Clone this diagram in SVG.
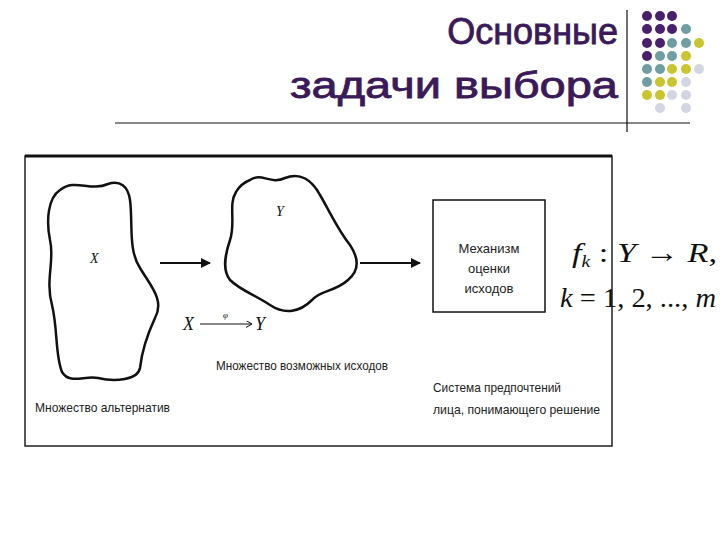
<svg xmlns="http://www.w3.org/2000/svg" width="720" height="540" viewBox="0 0 720 540">
<defs>
<style>
.t{font-family:"Liberation Sans",Arial,sans-serif;font-size:36px;fill:#3b1a5a;stroke:#3b1a5a;stroke-width:0.8;text-anchor:end}
.s{font-family:"Liberation Sans",Arial,sans-serif;font-size:13px;fill:#222}
.m{font-family:"Liberation Serif",serif;font-style:italic;fill:#111}
.sh{fill:none;stroke:#111;stroke-width:2.5}
.P{fill:#4a1f6e}.T{fill:#6e9ea2}.Y{fill:#c8c52e}.L{fill:#d3d6e2}
</style>
<marker id="ah" markerWidth="10" markerHeight="10" refX="9" refY="5" orient="auto" markerUnits="userSpaceOnUse"><path d="M0,0L10,5L0,10z" fill="#111"/></marker>
<marker id="sa" markerWidth="7" markerHeight="7" refX="6" refY="3.5" orient="auto" markerUnits="userSpaceOnUse"><path d="M0,0L6,3.5L0,7" fill="none" stroke="#111"/></marker>
</defs>
<rect width="720" height="540" fill="#fff"/>
<g id="title">
<text class="t" x="618" y="44">Основные</text>
<text class="t" x="618" y="98" textLength="328" lengthAdjust="spacingAndGlyphs">задачи выбора</text>
<line x1="627" y1="10" x2="627" y2="132" stroke="#111" stroke-width="1.2"/>
<line x1="115" y1="123" x2="690" y2="123" stroke="#111" stroke-width="1.2"/>
</g>
<g id="dots">
<circle class="P" cx="647" cy="16" r="5"/><circle class="P" cx="660" cy="16" r="5"/><circle class="P" cx="672" cy="16" r="5"/>
<circle class="P" cx="647" cy="29" r="5"/><circle class="P" cx="660" cy="29" r="5"/><circle class="P" cx="672" cy="29" r="5"/><circle class="T" cx="686" cy="29" r="5"/>
<circle class="P" cx="647" cy="43" r="5"/><circle class="P" cx="660" cy="43" r="5"/><circle class="T" cx="672" cy="43" r="5"/><circle class="T" cx="686" cy="43" r="5"/><circle class="Y" cx="699" cy="43" r="5"/>
<circle class="P" cx="647" cy="56" r="5"/><circle class="T" cx="660" cy="56" r="5"/><circle class="T" cx="672" cy="56" r="5"/><circle class="Y" cx="686" cy="56" r="5"/>
<circle class="T" cx="647" cy="69" r="5"/><circle class="T" cx="660" cy="69" r="5"/><circle class="Y" cx="672" cy="69" r="5"/><circle class="Y" cx="686" cy="69" r="5"/><circle class="L" cx="699" cy="69" r="5"/>
<circle class="T" cx="647" cy="82" r="5"/><circle class="Y" cx="660" cy="82" r="5"/><circle class="Y" cx="672" cy="82" r="5"/><circle class="L" cx="686" cy="82" r="5"/>
<circle class="Y" cx="647" cy="95" r="5"/><circle class="Y" cx="660" cy="95" r="5"/><circle class="L" cx="672" cy="95" r="5"/><circle class="L" cx="686" cy="95" r="5"/>
<circle class="L" cx="660" cy="108" r="5"/><circle class="L" cx="686" cy="108" r="5"/>
</g>
<g id="frame">
<path d="M25,156H612V446H25Z" fill="none" stroke="#222" stroke-width="1.5"/>
<line x1="25" y1="156" x2="612" y2="156" stroke="#111" stroke-width="3"/>
</g>
<g id="setX">
<path class="sh" d="M60,190C75,178 90,192 108,184C120,180 128,186 130,200C133,222 128,250 140,268C150,285 165,300 155,318C148,333 142,350 140,368C138,380 115,382 98,378C85,375 70,385 62,372C55,355 58,330 52,305C45,280 55,260 50,240C46,220 48,198 60,190Z"/>
<text class="m" x="90" y="263" font-size="14">X</text>
<text class="s" x="35" y="412" textLength="135" lengthAdjust="spacingAndGlyphs">Множество альтернатив</text>
</g>
<g id="setY">
<path class="sh" d="M250,180C262,172 270,185 285,178C300,172 312,180 320,195C330,212 338,230 350,245C358,257 360,270 348,280C335,292 320,290 312,300C300,312 285,315 270,305C255,295 240,290 230,280C222,270 225,255 230,240C236,222 228,205 236,192C240,185 245,182 250,180Z"/>
<text class="m" x="276" y="216" font-size="14">Y</text>
<text class="s" x="216" y="370" textLength="172" lengthAdjust="spacingAndGlyphs">Множество возможных исходов</text>
<text class="m" x="183" y="330" font-size="18">X</text>
<line x1="200" y1="324" x2="252" y2="324" stroke="#111" stroke-width="1" marker-end="url(#sa)"/>
<text class="m" x="223" y="318" font-size="9">φ</text>
<text class="m" x="255" y="330" font-size="18">Y</text>
</g>
<g id="mech">
<rect x="433" y="200" width="112" height="112" fill="none" stroke="#111" stroke-width="1.5"/>
<text class="s" x="489" y="253" text-anchor="middle">Механизм</text>
<text class="s" x="489" y="273" text-anchor="middle">оценки</text>
<text class="s" x="489" y="293" text-anchor="middle">исходов</text>
<text class="s" x="433" y="392" textLength="128" lengthAdjust="spacingAndGlyphs">Система предпочтений</text>
<text class="s" x="433" y="414" textLength="167" lengthAdjust="spacingAndGlyphs">лица, понимающего решение</text>
</g>
<g id="connectors">
<line x1="160" y1="263" x2="210" y2="263" stroke="#111" stroke-width="2" marker-end="url(#ah)"/>
<line x1="360" y1="263" x2="420" y2="263" stroke="#111" stroke-width="2" marker-end="url(#ah)"/>
</g>
<g id="formula">
<text class="m" x="572" y="262" font-size="28" textLength="145" lengthAdjust="spacingAndGlyphs">f<tspan font-size="16" dy="5">k</tspan><tspan dy="-5" font-style="normal"> : </tspan>Y<tspan font-style="normal"> → </tspan>R<tspan font-style="normal">,</tspan></text>
<text class="m" x="560" y="307" font-size="28" textLength="156" lengthAdjust="spacingAndGlyphs">k<tspan font-style="normal"> = 1, 2, ..., </tspan>m</text>
</g>
</svg>
